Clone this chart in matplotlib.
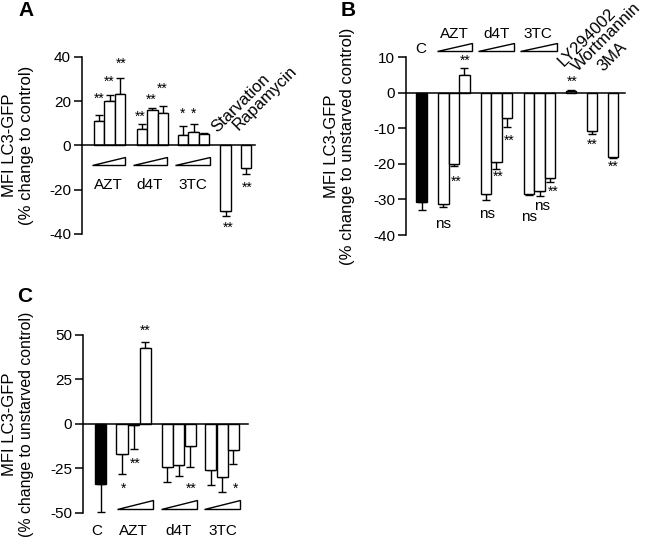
import numpy as np
import matplotlib.pyplot as plt
from matplotlib.patches import Polygon

plt.rcParams['font.family'] = ['Liberation Sans', 'DejaVu Sans']
plt.rcParams['axes.unicode_minus'] = False

# panel A
xA = [1.64, 2.64, 3.64, 5.71, 6.71, 7.71, 9.62, 10.62, 11.62, 13.67, 15.64]
valsA = [11.0, 20.1, 23.4, 7.5, 16.2, 14.8, 4.8, 6.3, 5.4, -29.4, -10.3]
errA = [2.7, 2.8, 6.9, 2.3, 0.7, 2.9, 4.1, 3.5, 0.3, 2.3, 2.5]
sigA = ['**', '**', '**', '**', '**', '**', '*', '*', '**', '**']
drugsA = ['AZT', 'd4T', '3TC']
otherA = ['Starvation', 'Rapamycin']

# panel B
xB = [1.49, 3.55, 4.56, 5.57, 7.62, 8.62, 9.62, 11.73, 12.73, 13.73, 15.7, 17.71, 19.71]
valsB = [-30.8, -31.3, -19.9, 4.9, -28.6, -19.4, -7.2, -28.6, -27.7, -24.1, 0.5, -10.6, -18.0]
errB = [2.2, 0.9, 0.8, 2.1, 1.6, 2.0, 2.4, 0.2, 1.4, 0.9, 0.4, 1.1, 0.2]
sigB = ['ns', '**', '**', 'ns', '**', '**', 'ns', 'ns', '**', '**', '**', '**']
otherB = ['LY294002', 'Wortmannin', '3MA']

# panel C
xC = [1.52, 3.41, 4.45, 5.5, 7.45, 8.45, 9.46, 11.28, 12.29, 13.29]
valsC = [-33.9, -16.9, -0.5, 42.5, -24.3, -23.2, -12.2, -25.8, -30.1, -14.6]
errC = [15.7, 11.2, 13.5, 3.8, 8.7, 6.4, 12.3, 8.5, 8.5, 7.9]
sigC = ['*', '**', '**', '**', '*']
catsC = ['C', 'AZT', 'd4T', '3TC']


def bars(ax, x, vals, err, first_black=False):
    colors = ['white'] * len(vals)
    if first_black:
        colors[0] = 'black'
    ax.bar(x, vals, width=1.0, color=colors, edgecolor='black', linewidth=1.0, zorder=2)
    vals = np.array(vals)
    err = np.array(err)
    lower = np.where(vals < 0, err, 0)
    upper = np.where(vals >= 0, err, 0)
    ax.errorbar(x, vals, yerr=[lower, upper], fmt='none', ecolor='black',
                elinewidth=1.0, capsize=3, capthick=1.0, zorder=1)


def style(ax, xmax, ylim, yticks):
    ax.set_xlim(0, xmax)
    ax.set_ylim(*ylim)
    ax.set_yticks(yticks)
    ax.set_xticks([])
    ax.spines['top'].set_visible(False)
    ax.spines['right'].set_visible(False)
    ax.spines['bottom'].set_position(('data', 0))
    ax.spines['left'].set_linewidth(1.1)
    ax.spines['bottom'].set_linewidth(1.1)
    ax.tick_params(axis='y', direction='out', length=5.5, width=1.1, labelsize=11, pad=2.5)
    ax.patch.set_visible(False)


def wedge(ax, x0, x1, yb, yt):
    ax.add_patch(Polygon([(x0, yb), (x1, yb), (x1, yt)], closed=True, facecolor='white',
                         edgecolor='black', linewidth=1.0, clip_on=False))


fig = plt.figure(figsize=(6.5, 5.4), dpi=100)

# ---- A ----
axA = fig.add_axes([0.1262, 0.5667, 0.2662, 0.3278])
bars(axA, xA, valsA, errA)
style(axA, 16.48, (-40, 40), [-40, -20, 0, 20, 40])
posA = [(1.6, 21), (2.6, 29), (3.7, 36.7), (5.5, 13.1), (6.6, 20.7), (7.6, 25.4),
        (9.6, 14.3), (10.6, 14.5), (13.9, -37), (15.7, -18.9)]
for s, (px, py) in zip(sigA, posA):
    axA.text(px, py, s, ha='center', va='center', fontsize=10)
for (x0, x1), name in zip([(0.92, 4.1), (4.83, 8.12), (8.86, 12.19)], drugsA):
    wedge(axA, x0, x1, -8.8, -5.0)
    axA.text((x0 + x1) / 2, -19.7, name, ha='center', va='baseline', fontsize=11)
for (px, py), name in zip([(12.9, 5.5), (14.9, 6.8)], otherA):
    axA.text(px, py, name, rotation=45, rotation_mode='anchor', ha='left', va='baseline',
             fontsize=12)

# ---- B ----
axB = fig.add_axes([0.6246, 0.5648, 0.3369, 0.3291])
bars(axB, xB, valsB, errB, first_black=True)
style(axB, 20.86, (-40, 10), [-40, -30, -20, -10, 0, 10])
posB = [(3.55, -36.9), (4.8, -25), (5.6, 8.9), (7.7, -34.1), (8.8, -23.6), (9.8, -13.4),
        (11.7, -35), (13.0, -31.9), (14.0, -27.9), (15.8, 3.0), (17.7, -14.6), (19.7, -20.8)]
for s, (px, py) in zip(sigB, posB):
    axB.text(px, py, s, ha='center', va='center', fontsize=11 if s == 'ns' else 10)
axB.text(1.4, 11.2, 'C', ha='center', va='baseline', fontsize=11)
for (x0, x1), name in zip([(2.92, 6.26), (6.89, 10.31), (10.86, 14.35)], drugsA):
    wedge(axB, x0, x1, 11.7, 14.0)
    axB.text((x0 + x1) / 2, 15.4, name, ha='center', va='baseline', fontsize=11)
for (px, py), name in zip([(15.0, 7.2), (16.4, 5.8), (18.8, 5.8)], otherB):
    axB.text(px, py, name, rotation=45, rotation_mode='anchor', ha='left', va='baseline',
             fontsize=12)

# ---- C ----
axC = fig.add_axes([0.1282, 0.0506, 0.2534, 0.3291])
bars(axC, xC, valsC, errC, first_black=True)
style(axC, 14.58, (-50, 50), [-50, -25, 0, 25, 50])
posC = [(3.54, -36.5), (4.57, -22.5), (5.46, 52.4), (9.59, -36.5), (13.5, -36.5)]
for s, (px, py) in zip(sigC, posC):
    axC.text(px, py, s, ha='center', va='center', fontsize=10)
for (x0, x1) in [(3.0, 6.2), (6.85, 10.04), (10.68, 13.87)]:
    wedge(axC, x0, x1, -47.8, -43.1)
for px, name in zip([1.2, 4.43, 8.47, 12.39], catsC):
    axC.text(px, -62.7, name, ha='center', va='baseline', fontsize=11)

# y labels and panel letters
for (xl, xl2, yc, l2, fs) in [(9.5, 27, 145, '(% change to control)', 12),
                              (331, 347.5, 146, '(% change to unstarved control)', 12),
                              (9.5, 26.5, 424, '(% change to unstarved control)', 11.4)]:
    fig.text(xl / 650, 1 - yc / 540, 'MFI LC3-GFP', rotation=90, ha='center', va='center', fontsize=12)
    fig.text(xl2 / 650, 1 - yc / 540, l2, rotation=90, ha='center', va='center', fontsize=fs)
for (lx, ly, lab) in [(26, 11, 'A'), (348, 11, 'B'), (24.5, 296, 'C')]:
    fig.text(lx / 650, 1 - ly / 540, lab, ha='center', va='center', fontsize=15, fontweight='bold')

fig.savefig('out.png', dpi=100)
